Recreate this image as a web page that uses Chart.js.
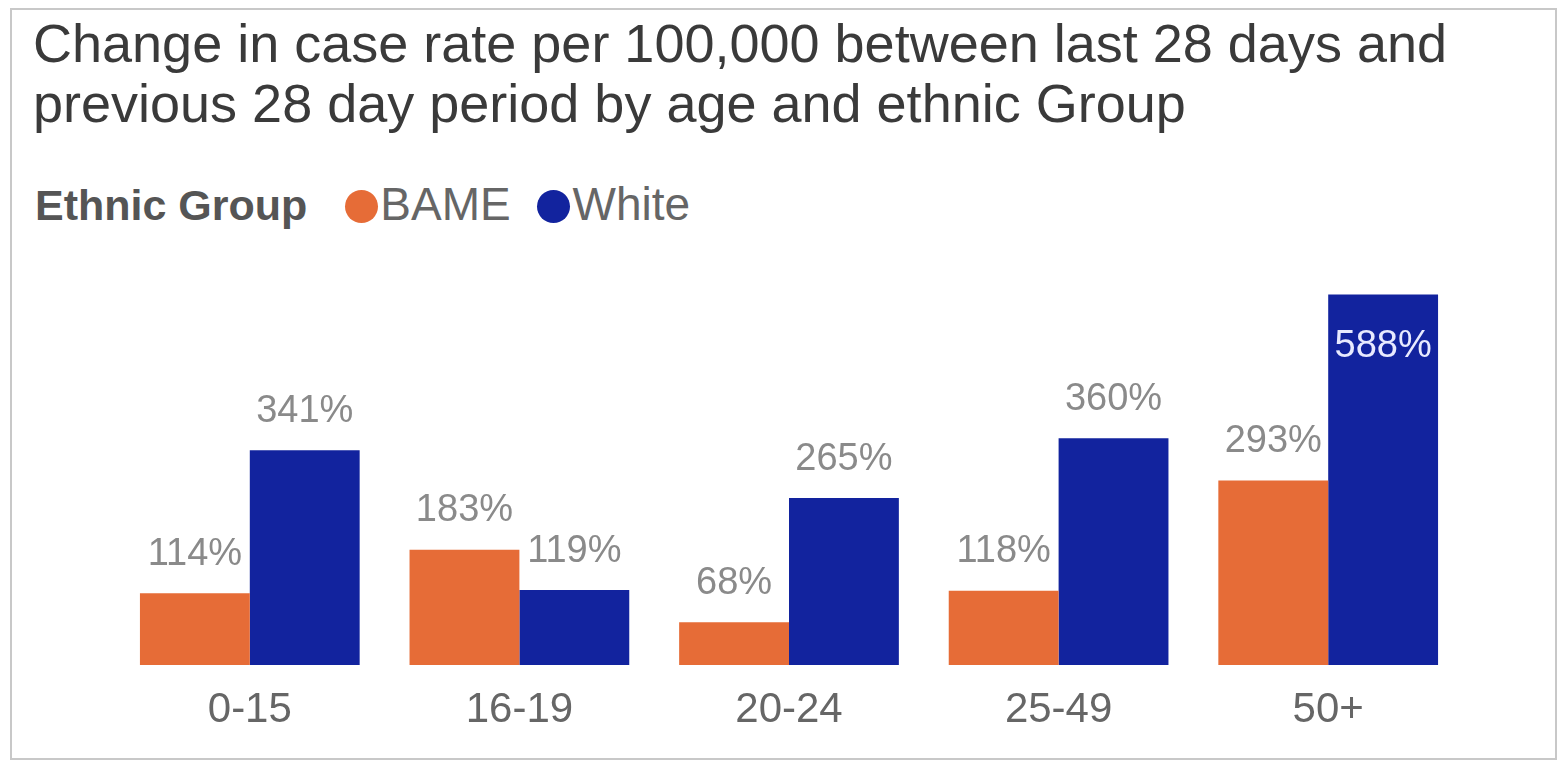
<!DOCTYPE html>
<html>
<head>
<meta charset="utf-8">
<script src="https://cdn.jsdelivr.net/npm/chart.js@4"></script>
<style>
  html, body { margin: 0; padding: 0; background: #fff; }
  body { width: 1557px; height: 760px; position: relative; overflow: hidden; font-family: "Liberation Sans", Arial, sans-serif; }
  .frame { position: absolute; left: 10px; top: 8px; width: 1543px; height: 748px; border: 2px solid #c8c8c8; }
  .title { position: absolute; left: 33px; top: 13px; font-size: 54px; line-height: 60px; color: #3a3a3a; white-space: nowrap; }
  .legend { position: absolute; left: 35px; top: 179px; font-size: 46px; line-height: 50px; color: #666; white-space: nowrap; }
  .legend b { color: #555; font-size: 43px; margin-right: 38px; }
  .legend .dot { display: inline-block; width: 33px; height: 33px; border-radius: 50%; vertical-align: -3px; margin-right: 2px; }
  .legend .item { margin-right: 14px; }
  canvas { position: absolute; left: 0; top: 0; }
</style>
</head>
<body>
<div class="frame"></div>
<div class="title">Change in case rate per 100,000 between last 28 days and<br>previous 28 day period by age and ethnic Group</div>
<div class="legend">
  <b>Ethnic Group</b><span class="item"><span class="dot" style="background:#E66C37"></span>BAME</span>
  <span class="item"><span class="dot" style="background:#12239E"></span>White</span>
</div>
<canvas id="chart" width="1557" height="760"></canvas>
<script>
const ageGroups = ["0-15", "16-19", "20-24", "25-49", "50+"];
const bameChange = [114, 183, 68, 118, 293];
const whiteChange = [341, 119, 265, 360, 588];
const seriesNames = ["BAME", "White"];
const seriesColors = ["#E66C37", "#12239E"];

// value labels above each bar, or inside when there is no room above
const barLabels = {
  id: "barLabels",
  afterDatasetsDraw(chart) {
    const ctx = chart.ctx;
    const top = chart.chartArea.top;
    ctx.save();
    ctx.font = "38px 'Liberation Sans', Arial, sans-serif";
    ctx.textAlign = "center";
    ctx.textBaseline = "middle";
    chart.data.datasets.forEach((ds, i) => {
      chart.getDatasetMeta(i).data.forEach((bar, j) => {
        const text = ds.data[j] + "%";
        let y = bar.y - 39;
        if (y < top) {
          y = bar.y + 52;
          ctx.fillStyle = "#e8eaff";
        } else {
          ctx.fillStyle = "#8a8a8a";
        }
        ctx.fillText(text, bar.x, y);
      });
    });
    ctx.restore();
  }
};

new Chart(document.getElementById("chart"), {
  type: "bar",
  data: {
    labels: ageGroups,
    datasets: [
      { label: seriesNames[0], data: bameChange, backgroundColor: seriesColors[0] },
      { label: seriesNames[1], data: whiteChange, backgroundColor: seriesColors[1] }
    ]
  },
  options: {
    responsive: false,
    animation: false,
    layout: { padding: { left: 115, right: 94, top: 287, bottom: 13 } },
    datasets: { bar: { categoryPercentage: 0.815, barPercentage: 1.0 } },
    plugins: {
      legend: { display: false },
      tooltip: { enabled: false }
    },
    scales: {
      x: {
        grid: { display: false },
        border: { display: false },
        ticks: {
          color: "#666",
          padding: 16,
          font: { family: "'Liberation Sans', Arial, sans-serif", size: 42, lineHeight: 1 }
        }
      },
      y: { display: false, min: 0, max: 600 }
    }
  },
  plugins: [barLabels]
});
</script>
</body>
</html>
